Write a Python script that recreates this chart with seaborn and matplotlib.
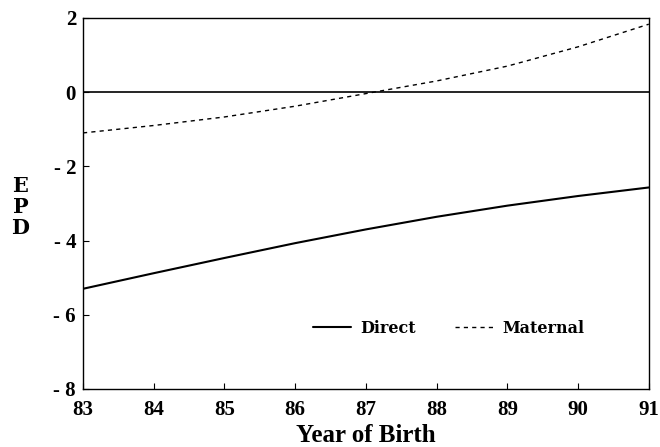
import matplotlib
matplotlib.use("Agg")
import matplotlib.pyplot as plt
import seaborn as sns
import pandas as pd

years = [83, 84, 85, 86, 87, 88, 89, 90, 91]
direct = [-5.30, -4.88, -4.47, -4.07, -3.70, -3.36, -3.06, -2.80, -2.57]
maternal = [-1.10, -0.90, -0.67, -0.38, -0.04, 0.30, 0.70, 1.22, 1.83]
x_ticks = [83, 84, 85, 86, 87, 88, 89, 90, 91]
y_ticks = [-8, -6, -4, -2, 0, 2]
y_tick_labels = ["- 8", "- 6", "- 4", "- 2", "0", "2"]

sns.set_theme(style="white", rc={"text.color": "black", "axes.labelcolor": "black",
                                 "xtick.color": "black", "ytick.color": "black",
                                 "axes.edgecolor": "black"})
plt.rcParams["font.family"] = ["Liberation Serif", "DejaVu Serif"]
plt.rcParams["font.weight"] = "bold"
wide = ["DejaVu Serif", "Liberation Serif"]

df = pd.DataFrame({"Year": years * 2,
                   "EPD": direct + maternal,
                   "Series": ["Direct"] * len(years) + ["Maternal"] * len(years)})

fig = plt.figure(figsize=(6.6, 4.47), dpi=100)
ax = fig.add_axes([0.1258, 0.1298, 0.8572, 0.8302])

sns.lineplot(data=df[df.Series == "Direct"], x="Year", y="EPD", ax=ax,
             color="black", linewidth=1.5, label="Direct")
sns.lineplot(data=df[df.Series == "Maternal"], x="Year", y="EPD", ax=ax,
             color="black", linewidth=1.0, linestyle=(0, (3, 3)), label="Maternal")
ax.axhline(0, color="black", linewidth=1.2)

ax.set_xlim(83, 91)
ax.set_ylim(-8, 2)
ax.set_xticks(x_ticks)
ax.set_xticklabels([str(t) for t in x_ticks], fontsize=15, fontweight="bold")
ax.set_yticks(y_ticks)
ax.set_yticklabels(y_tick_labels, fontsize=15, fontweight="bold")
ax.tick_params(direction="in", length=4, width=0.8, color="black",
               labelcolor="black", pad=5, bottom=True, left=True)
ax.tick_params(axis="x", pad=8)
for s in ax.spines.values():
    s.set_color("black")
    s.set_linewidth(1.0)

ax.set_xlabel("Year of Birth", fontsize=18, fontweight="bold", labelpad=3,
              color="black")
ax.set_ylabel("")
fig.text(0.031, 0.537, "E\nP\nD", fontsize=15, fontweight="bold", color="black",
         ha="center", va="center", linespacing=1.05, family=wide)

leg = ax.legend(loc="center left", bbox_to_anchor=(0.406, 0.164), ncol=2,
                frameon=False, borderaxespad=0, borderpad=0,
                prop={"family": wide, "weight": "bold", "size": 11.5},
                handlelength=2.4, columnspacing=2.4, handletextpad=0.6,
                labelcolor="black")

fig.savefig("out.png", dpi=100, facecolor="white")
